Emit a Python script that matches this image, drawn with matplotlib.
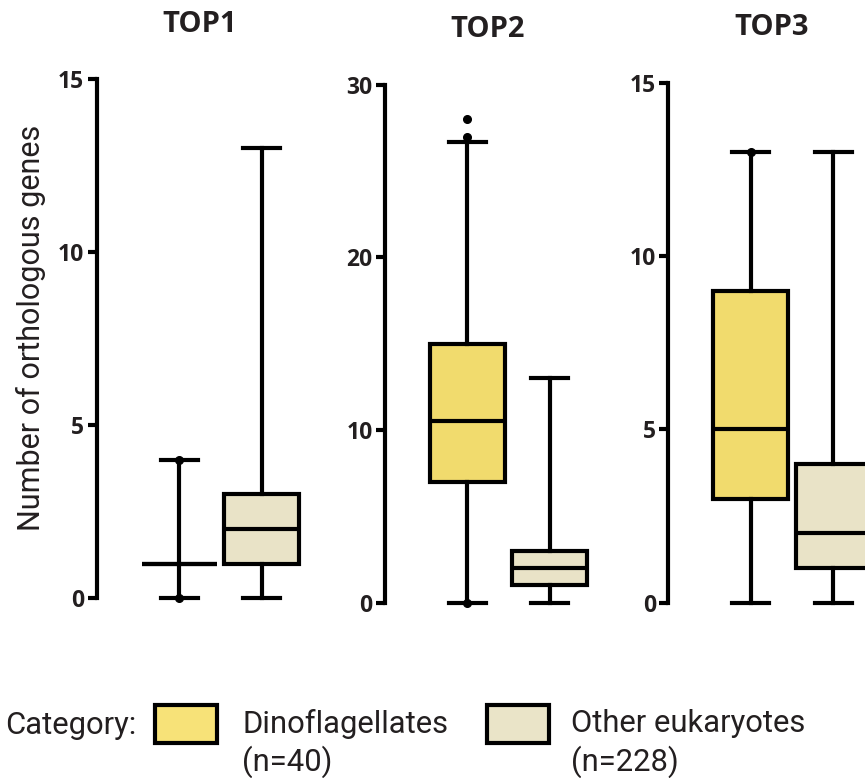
import matplotlib
matplotlib.use("Agg")
import matplotlib.pyplot as plt
from matplotlib.patches import Rectangle

# values
panels = ["TOP1", "TOP2", "TOP3"]
groups = ["Dinoflagellates", "Other eukaryotes"]
group_n = [40, 228]

dino_q1 = [1, 7, 3]
dino_med = [1, 10.5, 5]
dino_q3 = [1, 15, 9]
dino_lo = [0, 0, 0]
dino_hi = [4, 26.7, 13]
dino_fliers = [[0, 4], [0, 27, 28], [13]]

other_q1 = [1, 1, 1]
other_med = [2, 2, 2]
other_q3 = [3, 3, 4]
other_lo = [0, 0, 0]
other_hi = [13, 13, 13]

y_max = [15, 30, 15]
y_ticks = [[0, 5, 10, 15], [0, 10, 20, 30], [0, 5, 10, 15]]

DINO_COL = "#F1DB6D"
OTHER_COL = "#E9E3C7"
LEG_COLS = ["#F7E278", "#EAE4C8"]
LW = 3.0

bold = dict(family="Open Sans", weight="bold")
plain = "Roboto"

fig = plt.figure(figsize=(8.65, 7.78), dpi=100)
W, H = 865, 778

# axes boxes in pixels: left spine x, y of 0, y of top tick
ax_px = [(96.7, 598.3, 79.3), (385.0, 602.7, 84.7), (668.3, 602.7, 82.7)]
ax_w = 206.0

for i, name in enumerate(panels):
    x0, y0, y1 = ax_px[i]
    ax = fig.add_axes([x0 / W, (H - y0) / H, ax_w / W, (y0 - y1) / H])
    stats = [
        dict(med=dino_med[i], q1=dino_q1[i], q3=dino_q3[i],
             whislo=dino_lo[i], whishi=dino_hi[i], fliers=dino_fliers[i]),
        dict(med=other_med[i], q1=other_q1[i], q3=other_q3[i],
             whislo=other_lo[i], whishi=other_hi[i], fliers=[]),
    ]
    bp = ax.bxp(stats, positions=[1, 2], widths=0.91, capwidths=0.45,
                patch_artist=True, showfliers=True,
                boxprops=dict(linewidth=LW, edgecolor="black"),
                whiskerprops=dict(linewidth=LW, color="black"),
                capprops=dict(linewidth=LW, color="black"),
                medianprops=dict(linewidth=LW, color="black"),
                flierprops=dict(marker="o", markersize=5.5,
                                markerfacecolor="black",
                                markeredgecolor="black"))
    for patch, col in zip(bp["boxes"], [DINO_COL, OTHER_COL]):
        patch.set_facecolor(col)
        patch.set_joinstyle("miter")
    for key in bp:
        for art in bp[key]:
            art.set_clip_on(False)

    ax.set_xlim(0, 2.5)
    ax.set_ylim(0, y_max[i])
    ax.set_yticks(y_ticks[i])
    ax.set_xticks([])
    for s in ["top", "right", "bottom"]:
        ax.spines[s].set_visible(False)
    ax.spines["left"].set_linewidth(LW)
    ax.spines["left"].set_capstyle("projecting")
    ax.tick_params(axis="y", length=6.5, width=LW, pad=2.5, labelsize=16.5)
    for lab in ax.get_yticklabels():
        lab.set_fontfamily("Open Sans")
        lab.set_fontweight("bold")
        lab.set_color("#231F20")
    ax.patch.set_visible(False)

    fig.text((x0 + ax_w / 2) / W, 1 - (y1 - 55) / H, name, ha="center",
             va="center", fontsize=21, color="#231F20", **bold)

    if i == 0:
        fig.text(31 / W, 1 - 328 / H, "Number of orthologous genes",
                 rotation=90, ha="center", va="center", fontsize=22,
                 family=plain, color="#231F20")

# legend along the bottom
fig.text(5 / W, 1 - 726 / H, "Category:", ha="left", va="center",
         fontsize=22.3, family=plain, color="#231F20")
sw_x = [155, 487]
txt_x = [242, 571]
for k in range(2):
    fig.add_artist(Rectangle((sw_x[k] / W, 1 - 743 / H), 62 / W, 38 / H,
                             transform=fig.transFigure,
                             facecolor=LEG_COLS[k],
                             edgecolor="black", linewidth=LW))
    fig.text(txt_x[k] / W, 1 - 724 / H, groups[k], ha="left", va="center",
             fontsize=22.3, family=plain, color="#231F20")
    fig.text(txt_x[k] / W, 1 - 762 / H, "(n=%d)" % group_n[k], ha="left",
             va="center", fontsize=22.3, family=plain, color="#231F20")

fig.savefig("out.png", dpi=100)
